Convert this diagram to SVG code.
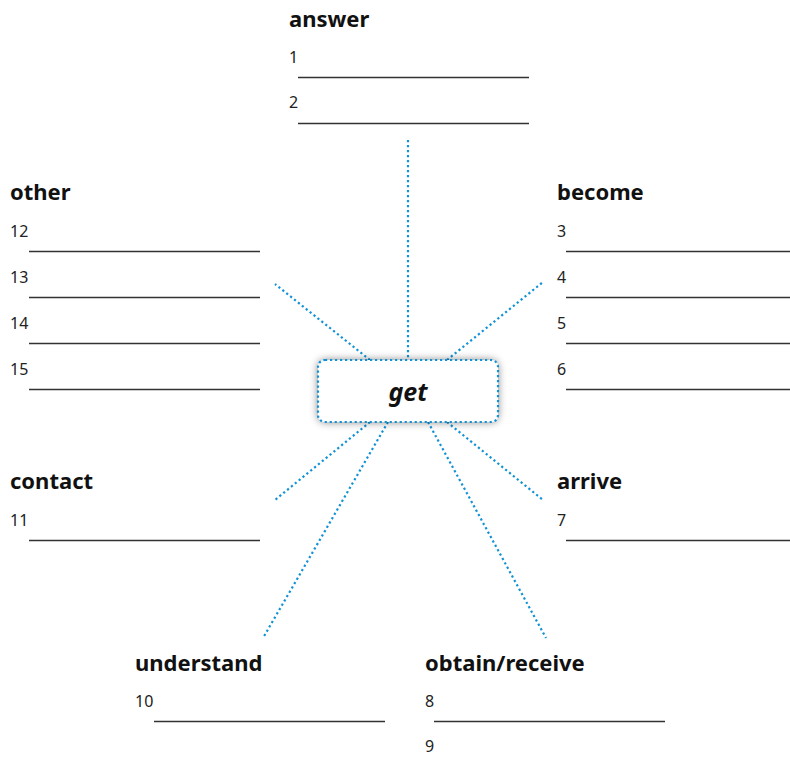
<svg xmlns="http://www.w3.org/2000/svg" width="790" height="766" viewBox="0 0 790 766">
<defs>
<style>
.h{font-family:"Noto Sans","Open Sans",sans-serif;font-weight:bold;font-size:22px;fill:#111}
.n{font-family:"Noto Sans","Open Sans",sans-serif;font-size:16px;fill:#222}
.l{stroke:#333;stroke-width:1.3}
.c{stroke:#1192d6;stroke-width:2.2;stroke-dasharray:2.2 2.8;fill:none}
</style>
<filter id="sh" x="-20%" y="-40%" width="140%" height="180%">
<feGaussianBlur in="SourceAlpha" stdDeviation="4"/>
<feComponentTransfer><feFuncA type="linear" slope="0.5"/></feComponentTransfer>
<feMerge><feMergeNode/><feMergeNode in="SourceGraphic"/></feMerge>
</filter>
</defs>
<rect width="790" height="766" fill="#fff"/>
<g id="connectors">
<line class="c" x1="408" y1="140" x2="408" y2="360"/>
<line class="c" x1="447" y1="360" x2="543" y2="282"/>
<line class="c" x1="370" y1="360" x2="275" y2="284"/>
<line class="c" x1="370" y1="422" x2="275" y2="500"/>
<line class="c" x1="447" y1="422" x2="543" y2="500"/>
<line class="c" x1="388" y1="422" x2="263" y2="638"/>
<line class="c" x1="428" y1="422" x2="546" y2="638"/>
</g>
<g id="center">
<rect x="318" y="360" width="180" height="62" rx="7" fill="#fff" filter="url(#sh)"/>
<rect class="c" x="318" y="360" width="180" height="62" rx="7"/>
<text x="408" y="401" text-anchor="middle" font-family="Noto Sans,Open Sans,sans-serif" font-style="italic" font-weight="bold" font-size="25" fill="#111">get</text>
</g>
<g id="answer">
<text class="h" x="289" y="27">answer</text>
<text class="n" x="289" y="63">1</text>
<line class="l" x1="298" y1="77.5" x2="529" y2="77.5"/>
<text class="n" x="289" y="108">2</text>
<line class="l" x1="298" y1="123.5" x2="529" y2="123.5"/>
</g>
<g id="other">
<text class="h" x="10" y="200">other</text>
<text class="n" x="10" y="237">12</text>
<line class="l" x1="29" y1="251.5" x2="260" y2="251.5"/>
<text class="n" x="10" y="283">13</text>
<line class="l" x1="29" y1="297.5" x2="260" y2="297.5"/>
<text class="n" x="10" y="329">14</text>
<line class="l" x1="29" y1="343.5" x2="260" y2="343.5"/>
<text class="n" x="10" y="375">15</text>
<line class="l" x1="29" y1="389.5" x2="260" y2="389.5"/>
</g>
<g id="become">
<text class="h" x="557" y="200">become</text>
<text class="n" x="557" y="237">3</text>
<line class="l" x1="566" y1="251.5" x2="790" y2="251.5"/>
<text class="n" x="557" y="283">4</text>
<line class="l" x1="566" y1="297.5" x2="790" y2="297.5"/>
<text class="n" x="557" y="329">5</text>
<line class="l" x1="566" y1="343.5" x2="790" y2="343.5"/>
<text class="n" x="557" y="375">6</text>
<line class="l" x1="566" y1="389.5" x2="790" y2="389.5"/>
</g>
<g id="contact">
<text class="h" x="10" y="489">contact</text>
<text class="n" x="10" y="526">11</text>
<line class="l" x1="29" y1="540.5" x2="260" y2="540.5"/>
</g>
<g id="arrive">
<text class="h" x="557" y="489">arrive</text>
<text class="n" x="557" y="526">7</text>
<line class="l" x1="566" y1="540.5" x2="790" y2="540.5"/>
</g>
<g id="understand">
<text class="h" x="135" y="671">understand</text>
<text class="n" x="135" y="707">10</text>
<line class="l" x1="154" y1="721.5" x2="385" y2="721.5"/>
</g>
<g id="obtain">
<text class="h" x="425" y="671">obtain/receive</text>
<text class="n" x="425" y="707">8</text>
<line class="l" x1="434" y1="721.5" x2="665" y2="721.5"/>
<text class="n" x="425" y="752">9</text>
</g>
</svg>
